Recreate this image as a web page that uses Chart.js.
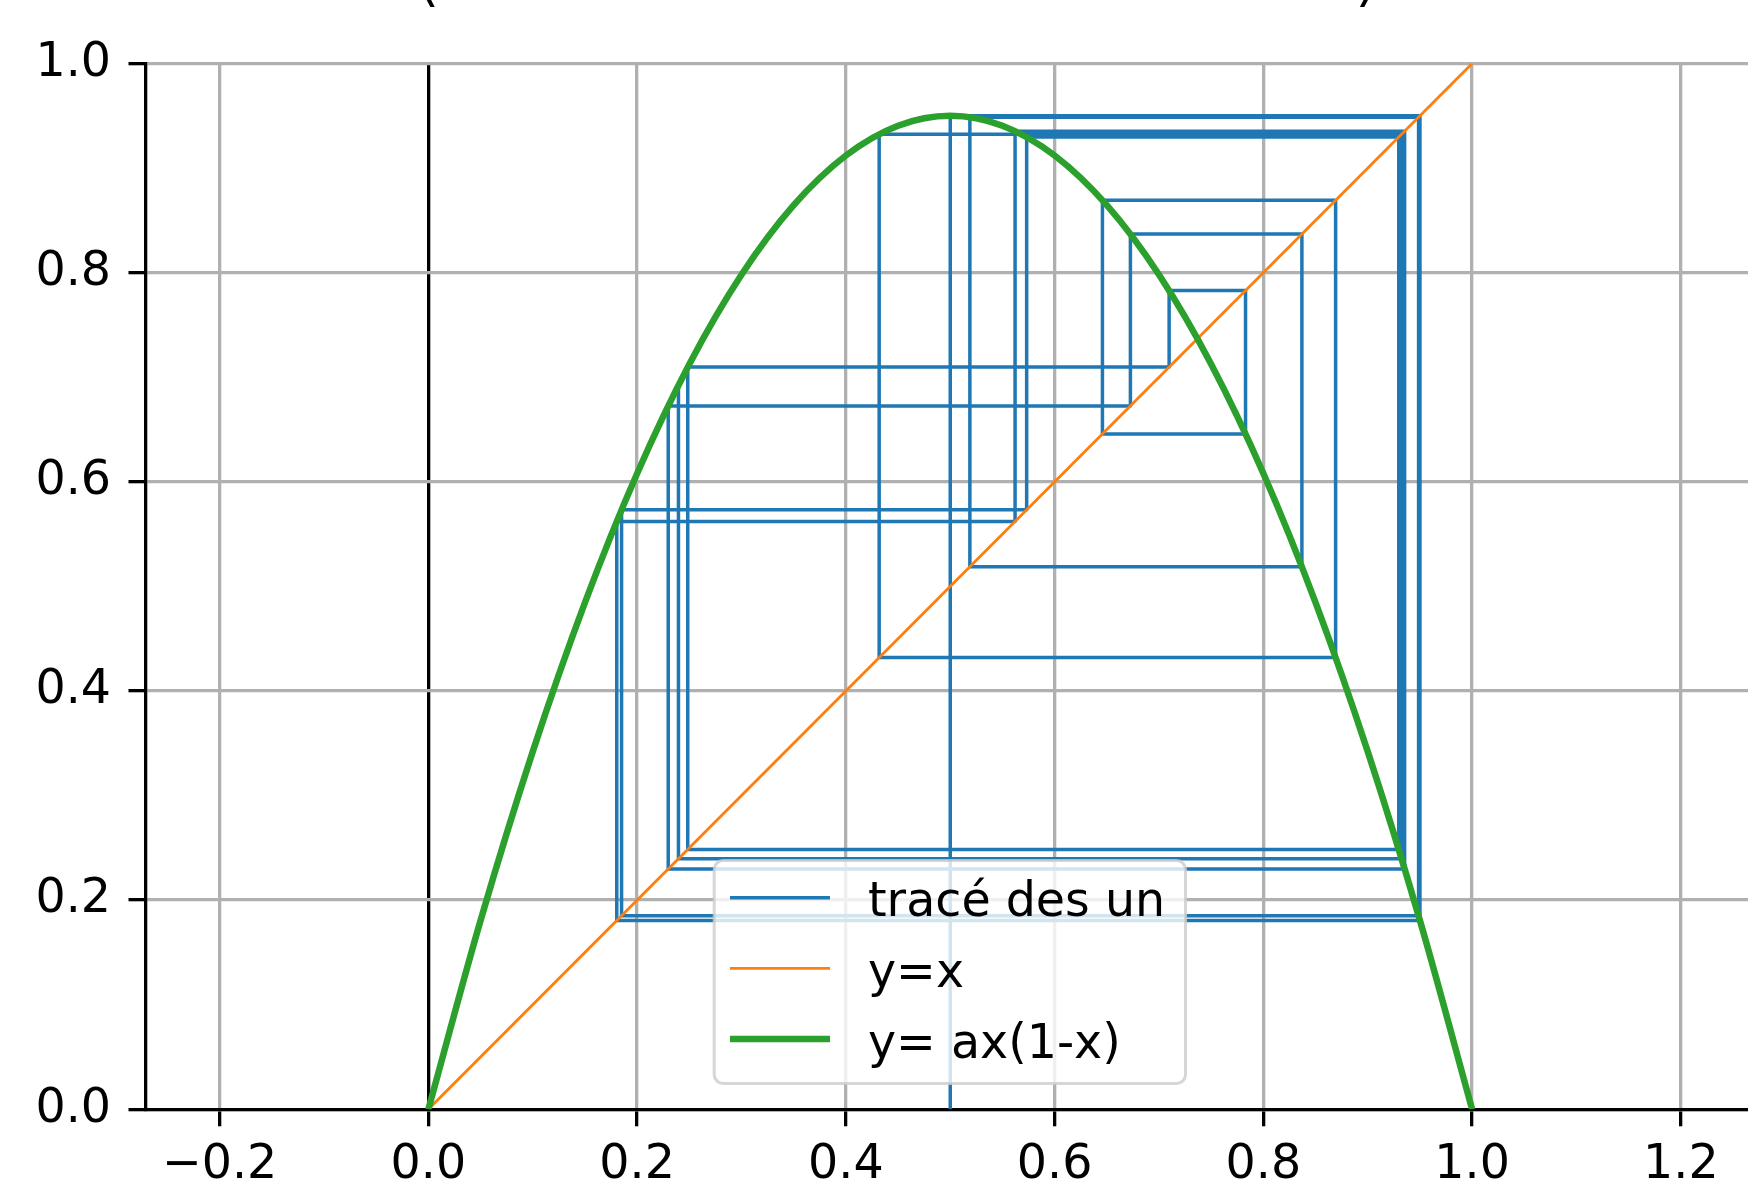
<!DOCTYPE html>
<html>
<head>
<meta charset="utf-8">
<script src="https://cdn.jsdelivr.net/npm/chart.js@4.4.1/dist/chart.umd.min.js"></script>
<style>
  html, body { margin: 0; padding: 0; background: #fff; overflow: hidden; }
  #wrap { position: relative; width: 1748px; height: 1179px; overflow: hidden; }
  #plot { position: absolute; left: 0; top: 0; }
</style>
</head>
<body>
<div id="wrap"><canvas id="plot" width="1800" height="1179"></canvas></div>
<script>
// ── data ──
const X_TICKS = [-0.2, 0.0, 0.2, 0.4, 0.6, 0.8, 1.0, 1.2];
const Y_TICKS = [0.0, 0.2, 0.4, 0.6, 0.8, 1.0];
const X_MIN = -0.271, X_MAX = 1.271;
const Y_MIN = 0, Y_MAX = 1;

// successive terms u0 .. u21 of the cobweb
const U_VALUES = [0.5, 0.95, 0.1805, 0.5621, 0.9353, 0.2298, 0.6726, 0.8369, 0.5188, 0.9487,
                  0.1851, 0.5732, 0.9297, 0.2485, 0.7097, 0.7829, 0.6458, 0.8692, 0.4319, 0.9324,
                  0.2396, 0.6923];

const CURVE_X = [0, 0.05, 0.1, 0.15, 0.2, 0.25, 0.3, 0.35, 0.4, 0.45, 0.5,
                 0.55, 0.6, 0.65, 0.7, 0.75, 0.8, 0.85, 0.9, 0.95, 1.0];
const CURVE_Y = [0, 0.1805, 0.342, 0.4845, 0.608, 0.7125, 0.798, 0.8645, 0.912, 0.9405, 0.95,
                 0.9405, 0.912, 0.8645, 0.798, 0.7125, 0.608, 0.4845, 0.342, 0.1805, 0];

const DIAG_X = [0, 1];
const DIAG_Y = [0, 1];

const SERIES_LABELS = ["tracé des un", "y=x", "y= ax(1-x)"];
const TITLE_PARTS = ["(", ")"];

// ── style ──
const FONT = "'DejaVu Sans', 'Noto Sans', sans-serif";
const FONT_SIZE = 47.5;
const BLUE = "#1f77b4", ORANGE = "#ff7f0e", GREEN = "#2ca02c", GRID = "#b0b0b0";

function fmtTick(v) {
  return (+v).toFixed(1).replace("-", "\u2212");
}

function cobweb(u) {
  const pts = [{ x: u[0], y: 0 }];
  for (let i = 0; i < u.length - 1; i++) {
    pts.push({ x: u[i], y: u[i + 1] });
    if (i < u.length - 2) pts.push({ x: u[i + 1], y: u[i + 1] });
  }
  return pts;
}

const zip = (xs, ys) => xs.map((x, i) => ({ x, y: ys[i] }));

const legendPlugin = {
  id: "boxLegend",
  afterDraw(chart) {
    const ctx = chart.ctx;
    ctx.save();
    ctx.beginPath();
    ctx.roundRect(714.2, 860.5, 471.3, 223, 9);
    ctx.fillStyle = "rgba(255,255,255,0.8)";
    ctx.fill();
    ctx.lineWidth = 3;
    ctx.strokeStyle = "rgba(204,204,204,0.8)";
    ctx.stroke();

    ctx.font = FONT_SIZE + "px " + FONT;
    ctx.textAlign = "left";
    ctx.textBaseline = "alphabetic";
    chart.data.datasets.forEach((ds, i) => {
      const y = 897.7 + i * 70.65;
      ctx.beginPath();
      ctx.moveTo(730, y);
      ctx.lineTo(830, y);
      ctx.lineWidth = ds.borderWidth;
      ctx.strokeStyle = ds.borderColor;
      ctx.lineCap = "butt";
      ctx.stroke();
      ctx.fillStyle = "#000";
      ctx.fillText(ds.label, 868, y + 18.5);
    });
    ctx.restore();
  }
};

const titlePlugin = {
  id: "cutTitle",
  afterDraw(chart) {
    const ctx = chart.ctx;
    ctx.save();
    ctx.font = "200 100px " + FONT;
    ctx.fillStyle = "#000";
    ctx.textAlign = "left";
    ctx.textBaseline = "alphabetic";
    ctx.fillText(TITLE_PARTS[0], 406, -6);
    ctx.fillText(TITLE_PARTS[1], 1349, -6);
    ctx.restore();
  }
};

const tickFont = { family: FONT, size: FONT_SIZE };

new Chart(document.getElementById("plot"), {
  type: "scatter",
  data: {
    datasets: [
      { label: SERIES_LABELS[0], data: cobweb(U_VALUES), borderColor: BLUE, borderWidth: 3.5,
        showLine: true, pointRadius: 0, order: 3, borderJoinStyle: "round" },
      { label: SERIES_LABELS[1], data: zip(DIAG_X, DIAG_Y), borderColor: ORANGE, borderWidth: 2.8,
        showLine: true, pointRadius: 0, order: 2 },
      { label: SERIES_LABELS[2], data: zip(CURVE_X, CURVE_Y), borderColor: GREEN, borderWidth: 6.5,
        showLine: true, pointRadius: 0, order: 1, cubicInterpolationMode: "monotone" }
    ]
  },
  options: {
    responsive: false, animation: false, devicePixelRatio: 1,
    layout: { padding: { left: 0, top: 63.5, right: 45, bottom: 0 } },
    plugins: { legend: { display: false }, tooltip: { enabled: false } },
    scales: {
      x: {
        type: "linear", min: X_MIN, max: X_MAX,
        afterBuildTicks: s => { s.ticks = X_TICKS.map(v => ({ value: v })); },
        afterFit: s => { s.height = 69.7; },
        grid: {
          color: c => (c.tick && c.tick.value === 0) ? "#000" : GRID,
          lineWidth: 3.3, tickLength: 17, tickColor: "#000", tickWidth: 3.3
        },
        border: { color: "#000", width: 3.3 },
        ticks: { font: tickFont, color: "#000", padding: 11, maxRotation: 0, autoSkip: false, callback: fmtTick }
      },
      y: {
        type: "linear", min: Y_MIN, max: Y_MAX,
        afterBuildTicks: s => { s.ticks = Y_TICKS.map(v => ({ value: v })); },
        afterFit: s => { s.width = 145.5; },
        grid: { color: GRID, lineWidth: 3.3, tickLength: 17, tickColor: "#000", tickWidth: 3.3 },
        border: { color: "#000", width: 3.3 },
        ticks: { font: tickFont, color: "#000", padding: 17.5, autoSkip: false, callback: fmtTick }
      }
    }
  },
  plugins: [legendPlugin, titlePlugin]
});
</script>
</body>
</html>
